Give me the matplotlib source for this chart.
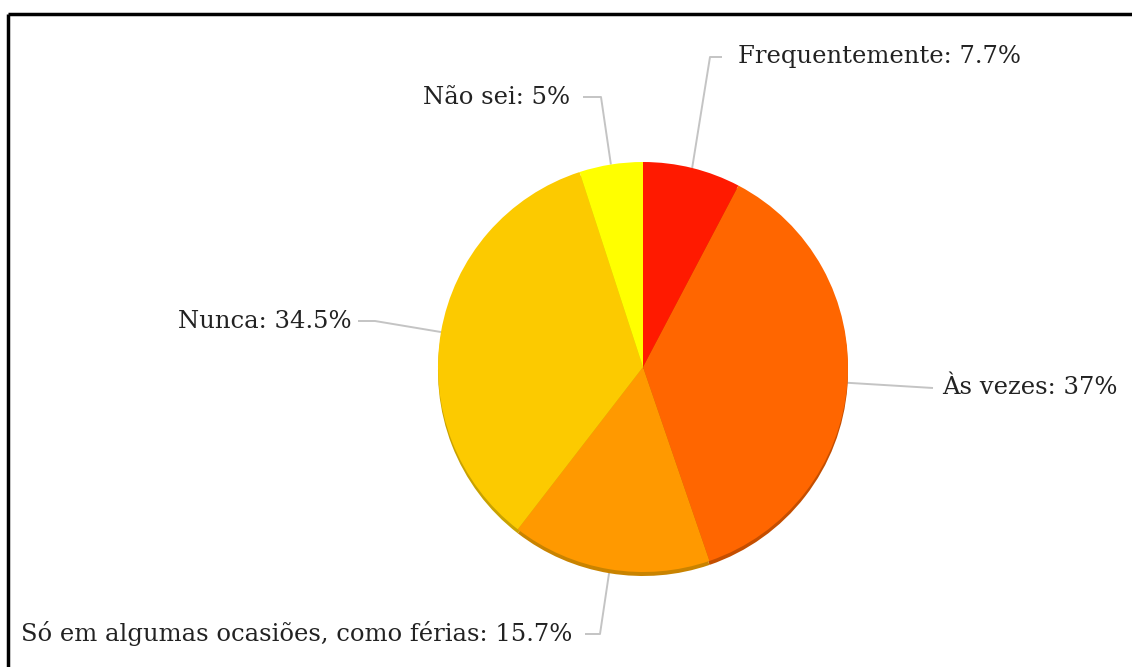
import matplotlib
matplotlib.use("Agg")
import matplotlib.pyplot as plt
import numpy as np

labels = ["Frequentemente", "Às vezes", "Só em algumas ocasiões, como férias", "Nunca", "Não sei"]
values = [7.7, 37, 15.7, 34.5, 5]
value_text = ["7.7%", "37%", "15.7%", "34.5%", "5%"]
colors = ["#ff1a00", "#ff6600", "#ff9900", "#fcca00", "#ffff00"]
shade = ["#c01400", "#c44e00", "#c98300", "#c9a200", "#c9c900"]

# label layout in pixel coords (y measured from top): elbow x, elbow y, end x, text x, align
layout = [
    (710, 57, 722, 738, "left"),
    (933, 388, 933, 942, "left"),
    (600, 634, 585, 572, "right"),
    (375, 321, 358, 352, "right"),
    (601, 97, 583, 570, "right"),
]

W, H = 1132, 667
cx, cy, r = 643, H - 367, 205


def main():
    fig = plt.figure(figsize=(W / 100, H / 100), dpi=100)
    ax = fig.add_axes([0, 0, 1, 1])

    # rim / shadow under the pie
    ax.pie(values, colors=shade, startangle=90, counterclock=False,
           center=(cx, cy - 4), radius=r, frame=True,
           wedgeprops=dict(linewidth=0))
    wedges, _ = ax.pie(values, colors=colors, startangle=90, counterclock=False,
                       center=(cx, cy), radius=r, frame=True,
                       wedgeprops=dict(linewidth=0))
    ax.set_xlim(0, W)
    ax.set_ylim(0, H)
    ax.set_aspect("equal")
    ax.axis("off")

    for w, lab, vt, (ex, ey, tx, xt, ha) in zip(wedges, labels, value_text, layout):
        ang = np.deg2rad((w.theta1 + w.theta2) / 2)
        sx = cx + r * np.cos(ang)
        sy = cy + r * np.sin(ang)
        ax.plot([sx, ex, tx], [sy, H - ey, H - ey], color="#c4c4c4", lw=1.4,
                solid_capstyle="butt", zorder=0)
        ax.text(xt, H - ey, f"{lab}: {vt}", ha=ha, va="center",
                fontsize=17.5, family="DejaVu Serif", color="#222222")

    # frame edges (top and left)
    ax.plot([8, W], [H - 14, H - 14], color="black", lw=2.5, solid_capstyle="butt")
    ax.plot([8, 8], [H - 14, 0], color="black", lw=2.5, solid_capstyle="butt")

    fig.savefig("out.png", dpi=100)


if __name__ == "__main__":
    main()
